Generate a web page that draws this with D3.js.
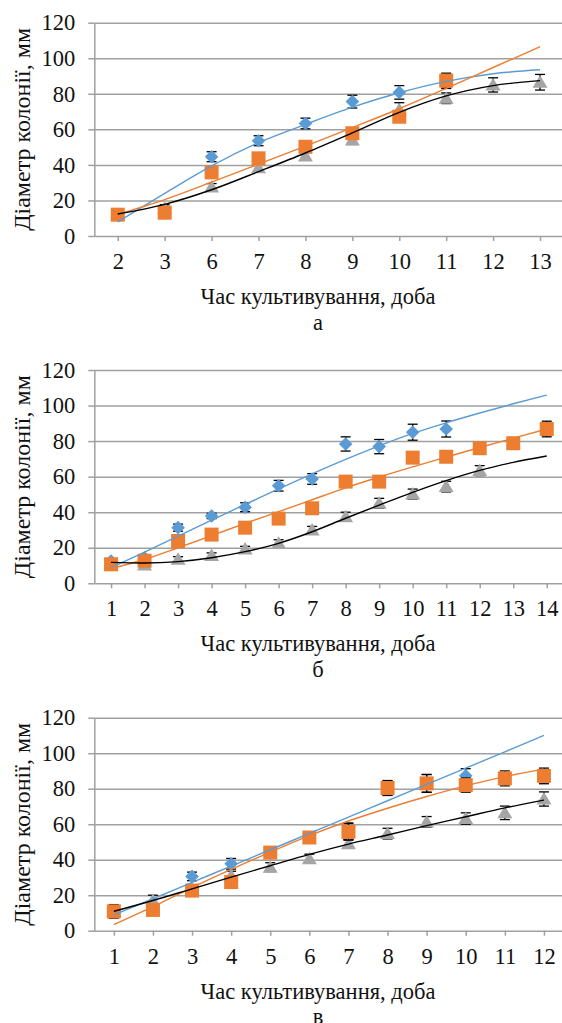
<!DOCTYPE html>
<html>
<head>
<meta charset="utf-8">
<script src="https://cdn.jsdelivr.net/npm/d3@7"></script>
<style>
body { margin: 0; background: #fff; }
svg { display: block; }
</style>
</head>
<body>
<svg width="562" height="1023"></svg>
<script>
// ---- data ----
var yTicks = [0, 20, 40, 60, 80, 100, 120];
var yTitle = "Діаметр колонії, мм";
var xTitle = "Час культивування, доба";

// panel а
var catsA = [2, 3, 6, 7, 8, 9, 10, 11, 12, 13];
var blueA   = [12, 15, 44.6, 53.6, 63.3, 75.6, 80.8, 87, null, null];
var grayA   = [12, 15.6, 27.5, 38.4, 45, 54, 71, 77.5, 85, 86.5];
var orangeA = [12, 13.1, 35.8, 43.7, 50.2, 57.8, 67.1, 87.4, null, null];
var errBlueA   = [1, 1, 2.8, 2.8, 3, 3.6, 3.8, 4, null, null];
var errGrayA   = [1, 2, 2, 2, 2, 2.5, 4, 3, 4, 4.4];
var errOrangeA = [1, 1.5, 2, 2, 2, 2.5, 2.5, 4.2, null, null];
var trendBlueA   = [8, 24, 39.5, 52.5, 62.8, 72.5, 80.6, 87, 91.3, 93.5];
var trendOrangeA = [12.2, 20.5, 30.3, 40.4, 50.6, 61, 71.6, 83, 94.8, 106.5];
var trendBlackA  = [12.4, 17.8, 26, 36.2, 46.7, 58, 69.6, 78.8, 84.6, 87.4];

// panel б
var catsB = [1, 2, 3, 4, 5, 6, 7, 8, 9, 10, 11, 12, 13, 14];
var blueB   = [12.5, 14.3, 31.3, 37.9, 42.8, 54.9, 58.7, 78.4, 76.9, 85, 86.8, null, null, null];
var grayB   = [11, 10.3, 13.5, 15.6, 19.3, 22.5, 30, 37.5, 45, 50.2, 54.4, 63.4, null, null];
var orangeB = [10.7, 12.7, 23.8, 27.4, 31.3, 36.4, 42.2, 57.2, 57.2, 70.7, 71.2, 76, 78.8, 86.8];
var errBlueB   = [1, 1, 2, 1.5, 2.5, 3, 3, 4, 4, 4.5, 4.5, null, null, null];
var errGrayB   = [1, 1, 1.5, 1.5, 1.5, 2, 2, 2.5, 2.8, 2.8, 3, 2.8, null, null];
var errOrangeB = [1, 1, 1.5, 1.5, 1.5, 2, 2, 2, 2, 2.5, 2.5, 3, 3, 4.4];
var trendBlueB   = [8.8, 17.6, 26.5, 35.5, 44.4, 53.1, 61.6, 69.7, 77.3, 84.3, 90.3, 95.8, 101, 105.9];
var trendOrangeB = [8.3, 13.4, 20, 26.8, 33.7, 40.3, 47, 53.7, 59.8, 65.5, 71, 76.4, 81.6, 86.8];
var trendBlackB  = [11.8, 11.4, 12.2, 14.4, 17.8, 22.5, 29, 36.6, 44, 51.2, 57.8, 63.5, 68, 71.6];

// panel в
var catsC = [1, 2, 3, 4, 5, 6, 7, 8, 9, 10, 11, 12];
var blueC   = [11, 12, 30.6, 37.7, 44, 52.5, 56, 80.4, 83, 87.3, null, null];
var grayC   = [11, 17, 23.6, 31, 35.8, 40.6, 49, 54.7, 61.3, 63.2, 66.4, 74.2];
var orangeC = [10.9, 11.7, 22.6, 27.4, 44, 52.5, 55.7, 80.4, 83, 82, 85.8, 87.2];
var errBlueC   = [1, 1, 2.4, 3, 2, 2, 4.7, 4, 5, 4, null, null];
var errGrayC   = [1, 3, 2, 2.5, 2.5, 2.5, 2.5, 3, 3, 3.2, 3.8, 4];
var errOrangeC = [3.8, 1.5, 1.5, 1.5, 2, 2, 4.7, 4.2, 5, 4, 4.2, 4.4];
var trendBlueC   = [8.9, 18, 27.2, 36.4, 45.6, 54.8, 64, 73.2, 82.4, 91.6, 100.8, 110];
var trendOrangeC = [3.4, 13.5, 24.3, 34.5, 44.3, 53.6, 61.8, 69, 75.6, 81.6, 86.8, 91];
var trendBlackC  = [10.9, 17, 23.6, 30.2, 36.6, 43, 48.8, 53.9, 59.2, 64.2, 69.2, 73.6];

// ---- drawing ----
var blue = "#5b9bd5", orange = "#ed7d31", gray = "#a5a5a5";
var gridColor = "#a0a0a0";
var fontFamily = "'Liberation Serif', 'Times New Roman', serif";
var tickFont = 22.5, xTitleFont = 22.5, yTitleFont = 24;
var plotLeft = 94.3, plotRight = 563.5;
var svg = d3.select("svg");

var shapes = {
	diamond: "M0,-6.8L6.8,0L0,6.8L-6.8,0Z",
	square: "M-7,-7H7V7H-7Z",
	triangle: "M0,-7L7.5,5.5L-7.5,5.5Z"
};

function styleText(sel, size) {
	sel.attr("font-family", null)
		.style("font-family", fontFamily)
		.style("font-size", size + "px")
		.attr("fill", "#111");
}

function drawPanel(p) {
	var g = svg.append("g");
	var x = d3.scalePoint().domain(p.cats).range([plotLeft, plotRight]).padding(0.5);
	var y = d3.scaleLinear().domain([0, 120]).range([p.bottom, p.top]);

	// gridlines
	g.append("g")
		.attr("transform", "translate(" + plotLeft + ",0)")
		.call(d3.axisLeft(y).tickValues(yTicks).tickSize(-(plotRight - plotLeft)).tickFormat(""))
		.call(function(a) {
			a.select(".domain").remove();
			a.selectAll("line").attr("stroke", gridColor).attr("stroke-width", 1.5);
		});

	// y axis
	g.append("g")
		.attr("transform", "translate(" + plotLeft + ",0)")
		.call(d3.axisLeft(y).tickValues(yTicks).tickSize(6).tickPadding(13).tickSizeOuter(0))
		.call(function(a) {
			a.attr("font-family", null);
			a.select(".domain").attr("stroke", gridColor).attr("stroke-width", 1.5);
			a.selectAll("line").attr("stroke", gridColor).attr("stroke-width", 1.5);
			styleText(a.selectAll("text"), tickFont);
		});

	// x axis
	g.append("g")
		.attr("transform", "translate(0," + p.bottom + ")")
		.call(d3.axisBottom(x).tickSize(5).tickPadding(12).tickSizeOuter(0))
		.call(function(a) {
			a.attr("font-family", null);
			a.select(".domain").remove();
			a.selectAll("line").attr("stroke", gridColor).attr("stroke-width", 1.5);
			styleText(a.selectAll("text"), tickFont);
		});

	// series: error bars then markers
	p.series.forEach(function(s) {
		var pts = p.cats.map(function(c, i) {
			return {c: c, v: s.vals[i], e: s.err[i]};
		}).filter(function(d) { return d.v != null; });

		var eb = g.append("g").attr("stroke", "#000").attr("stroke-width", 1.3);
		pts.filter(function(d) { return d.e; }).forEach(function(d) {
			var cx = x(d.c), y1 = y(d.v + d.e), y2 = y(d.v - d.e);
			eb.append("line").attr("x1", cx).attr("x2", cx).attr("y1", y1).attr("y2", y2);
			eb.append("line").attr("x1", cx - 5).attr("x2", cx + 5).attr("y1", y1).attr("y2", y1);
			eb.append("line").attr("x1", cx - 5).attr("x2", cx + 5).attr("y1", y2).attr("y2", y2);
		});

		g.append("g").selectAll("path")
			.data(pts)
			.enter()
			.append("path")
			.attr("d", shapes[s.shape])
			.attr("transform", function(d) { return "translate(" + x(d.c) + "," + y(d.v) + ")"; })
			.attr("fill", s.color);
	});

	// trendlines on top
	var line = d3.line()
		.x(function(d) { return x(d.c); })
		.y(function(d) { return y(d.v); })
		.curve(d3.curveMonotoneX);
	p.trends.forEach(function(t) {
		var pts = p.cats.map(function(c, i) { return {c: c, v: t.vals[i]}; });
		g.append("path")
			.attr("d", line(pts))
			.attr("fill", "none")
			.attr("stroke", t.color)
			.attr("stroke-width", t.width);
	});

	// titles
	var midY = (p.top + p.bottom) / 2;
	g.append("text")
		.attr("transform", "translate(22," + midY + ") rotate(-90)")
		.attr("text-anchor", "middle")
		.attr("dy", "0.35em")
		.call(styleText, yTitleFont)
		.text(yTitle);
	g.append("text")
		.attr("x", 318).attr("y", p.bottom + 60)
		.attr("text-anchor", "middle")
		.attr("dy", "0.35em")
		.call(styleText, xTitleFont)
		.text(xTitle);
	g.append("text")
		.attr("x", 318).attr("y", p.bottom + 87)
		.attr("text-anchor", "middle")
		.attr("dy", "0.3em")
		.call(styleText, xTitleFont)
		.text(p.letter);
}

drawPanel({
	cats: catsA, top: 22.7, bottom: 236, letter: "а",
	series: [
		{vals: blueA, err: errBlueA, color: blue, shape: "diamond"},
		{vals: grayA, err: errGrayA, color: gray, shape: "triangle"},
		{vals: orangeA, err: errOrangeA, color: orange, shape: "square"}
	],
	trends: [
		{vals: trendBlueA, color: blue, width: 1.4},
		{vals: trendOrangeA, color: orange, width: 1.4},
		{vals: trendBlackA, color: "#000", width: 1.4}
	]
});

drawPanel({
	cats: catsB, top: 370, bottom: 583.3, letter: "б",
	series: [
		{vals: blueB, err: errBlueB, color: blue, shape: "diamond"},
		{vals: grayB, err: errGrayB, color: gray, shape: "triangle"},
		{vals: orangeB, err: errOrangeB, color: orange, shape: "square"}
	],
	trends: [
		{vals: trendBlueB, color: blue, width: 1.4},
		{vals: trendOrangeB, color: orange, width: 1.4},
		{vals: trendBlackB, color: "#000", width: 1.4}
	]
});

drawPanel({
	cats: catsC, top: 717.7, bottom: 930.7, letter: "в",
	series: [
		{vals: blueC, err: errBlueC, color: blue, shape: "diamond"},
		{vals: grayC, err: errGrayC, color: gray, shape: "triangle"},
		{vals: orangeC, err: errOrangeC, color: orange, shape: "square"}
	],
	trends: [
		{vals: trendBlueC, color: blue, width: 1.4},
		{vals: trendOrangeC, color: orange, width: 1.4},
		{vals: trendBlackC, color: "#000", width: 1.4}
	]
});
</script>
</body>
</html>
